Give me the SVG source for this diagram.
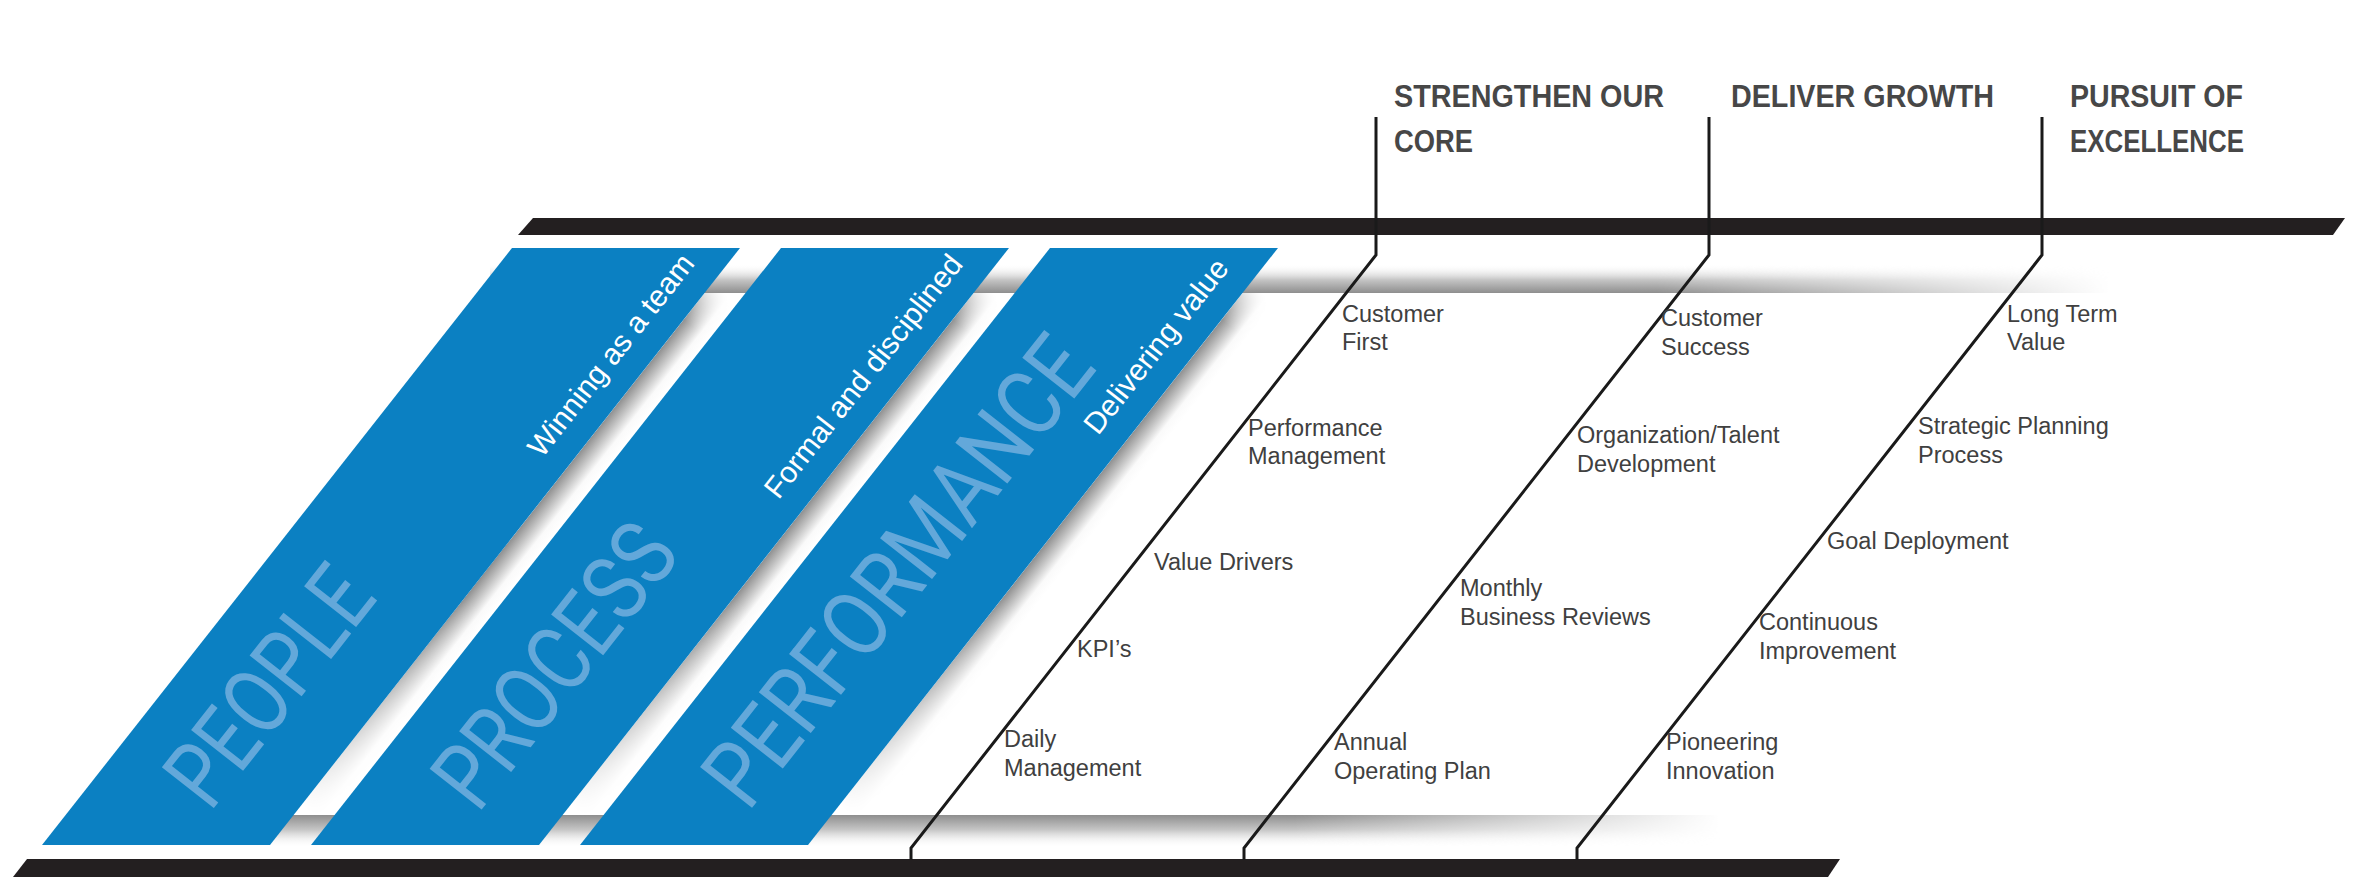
<svg xmlns="http://www.w3.org/2000/svg" width="2356" height="879" viewBox="0 0 2356 879">
  <style>
    .band { fill: #0b80c2; }
    .big { font-family: Roboto, "Liberation Sans", sans-serif; font-weight: 400; font-size: 93px; fill: #63a8da; }
    .sub { font-family: "Liberation Sans", Arial, sans-serif; font-size: 30px; fill: #ffffff; }
    .bar { fill: #231f20; }
    .hdr { font-family: "Liberation Sans", Arial, sans-serif; font-weight: bold; font-size: 31px; fill: #474747; }
    .lbl { font-family: "Liberation Sans", Arial, sans-serif; font-size: 23.5px; fill: #404040; }
    .conn { fill: none; stroke: #1a1a1a; stroke-width: 3; stroke-linejoin: miter; }
  </style>
  <defs>
    <linearGradient id="gapGrad" x1="0" y1="0" x2="0" y2="1">
      <stop offset="0" stop-color="#8f8f8f"/>
      <stop offset="0.35" stop-color="#c4c4c4"/>
      <stop offset="0.7" stop-color="#fafafa"/>
      <stop offset="1" stop-color="#ffffff"/>
    </linearGradient>
    <linearGradient id="alongGrad" x1="0" y1="0" x2="1" y2="0">
      <stop offset="0" stop-color="#000"/>
      <stop offset="0.4" stop-color="#fff"/>
      <stop offset="0.93" stop-color="#fff"/>
      <stop offset="1" stop-color="#000"/>
    </linearGradient>
    <mask id="alongFade" maskContentUnits="objectBoundingBox">
      <rect width="1" height="1" fill="url(#alongGrad)"/>
    </mask>
    <linearGradient id="rightGrad" x1="0" y1="0" x2="1" y2="0">
      <stop offset="0" stop-color="#fff"/>
      <stop offset="0.72" stop-color="#fff"/>
      <stop offset="1" stop-color="#000"/>
    </linearGradient>
    <mask id="fadeRight" maskContentUnits="objectBoundingBox">
      <rect width="1" height="1" fill="url(#rightGrad)"/>
    </mask>
    <linearGradient id="topGrad" x1="0" y1="0" x2="0" y2="1">
      <stop offset="0" stop-color="#ffffff" stop-opacity="0"/>
      <stop offset="0.55" stop-color="#c4c4c4"/>
      <stop offset="1" stop-color="#8e8e8e"/>
    </linearGradient>
    <linearGradient id="botGrad" x1="0" y1="0" x2="0" y2="1">
      <stop offset="0" stop-color="#8e8e8e"/>
      <stop offset="0.45" stop-color="#c6c6c6"/>
      <stop offset="1" stop-color="#ffffff" stop-opacity="0"/>
    </linearGradient>
  </defs>

  <rect width="2356" height="879" fill="#ffffff"/>

  <g id="shadows">
    <g transform="translate(270,845) rotate(-51.79)"><rect x="50" y="0" width="665" height="31" fill="url(#gapGrad)" mask="url(#alongFade)"/></g>
    <g transform="translate(539,845) rotate(-51.79)"><rect x="50" y="0" width="665" height="31" fill="url(#gapGrad)" mask="url(#alongFade)"/></g>
    <g transform="translate(808,845) rotate(-51.79)"><rect x="50" y="0" width="665" height="31" fill="url(#gapGrad)" mask="url(#alongFade)"/></g>
    <rect x="490" y="264" width="1620" height="29" fill="url(#topGrad)" mask="url(#fadeRight)"/>
    <rect x="200" y="815" width="1520" height="33" fill="url(#botGrad)" mask="url(#fadeRight)"/>
  </g>

  <g id="people">
    <polygon class="band" points="512,248 740,248 270,845 42,845"/>
    <g transform="translate(270,845) rotate(-51.79)">
      <text class="big" x="-12" y="-67" textLength="273" lengthAdjust="spacingAndGlyphs">PEOPLE</text>
      <text class="sub" x="720" y="-25" text-anchor="end">Winning as a team</text>
    </g>
  </g>
  <g id="process">
    <polygon class="band" points="781,248 1009,248 539,845 311,845"/>
    <g transform="translate(539,845) rotate(-51.79)">
      <text class="big" x="-14" y="-67" textLength="330" lengthAdjust="spacingAndGlyphs">PROCESS</text>
      <text class="sub" x="719" y="-25" text-anchor="end">Formal and disciplined</text>
    </g>
  </g>
  <g id="performance">
    <polygon class="band" points="1050,248 1278,248 808,845 580,845"/>
    <g transform="translate(808,845) rotate(-51.79)">
      <text class="big" x="-12" y="-67" textLength="566" lengthAdjust="spacingAndGlyphs">PERFORMANCE</text>
      <text class="sub" x="714" y="-25" text-anchor="end">Delivering value</text>
    </g>
  </g>

  <g id="bars">
    <polygon class="bar" points="533,218 2345,218 2333,235 518,235"/>
    <polygon class="bar" points="27,859 1840,859 1828,877 13,877"/>
  </g>

  <g id="connectors">
    <polyline class="conn" points="1376,117 1376,255 911,848 911,860"/>
    <polyline class="conn" points="1709,117 1709,255 1244,848 1244,860"/>
    <polyline class="conn" points="2042,117 2042,255 1577,848 1577,860"/>
  </g>

  <g id="headers">
    <g id="h-core">
      <text class="hdr" x="1394" y="107" textLength="270" lengthAdjust="spacingAndGlyphs">STRENGTHEN OUR</text>
      <text class="hdr" x="1394" y="152" textLength="79" lengthAdjust="spacingAndGlyphs">CORE</text>
    </g>
    <g id="h-growth">
      <text class="hdr" x="1731" y="107" textLength="263" lengthAdjust="spacingAndGlyphs">DELIVER GROWTH</text>
    </g>
    <g id="h-excellence">
      <text class="hdr" x="2070" y="107" textLength="173" lengthAdjust="spacingAndGlyphs">PURSUIT OF</text>
      <text class="hdr" x="2070" y="152" textLength="174" lengthAdjust="spacingAndGlyphs">EXCELLENCE</text>
    </g>
  </g>

  <g id="labels-core">
    <g id="l-customer-first"><text class="lbl" x="1342" y="322">Customer</text><text class="lbl" x="1342" y="350">First</text></g>
    <g id="l-perf-mgmt"><text class="lbl" x="1248" y="436">Performance</text><text class="lbl" x="1248" y="464">Management</text></g>
    <g id="l-value-drivers"><text class="lbl" x="1154" y="570">Value Drivers</text></g>
    <g id="l-kpis"><text class="lbl" x="1077" y="657">KPI’s</text></g>
    <g id="l-daily"><text class="lbl" x="1004" y="747">Daily</text><text class="lbl" x="1004" y="776">Management</text></g>
  </g>
  <g id="labels-growth">
    <g id="l-customer-success"><text class="lbl" x="1661" y="326">Customer</text><text class="lbl" x="1661" y="355">Success</text></g>
    <g id="l-org-talent"><text class="lbl" x="1577" y="443">Organization/Talent</text><text class="lbl" x="1577" y="472">Development</text></g>
    <g id="l-monthly"><text class="lbl" x="1460" y="596">Monthly</text><text class="lbl" x="1460" y="625">Business Reviews</text></g>
    <g id="l-annual"><text class="lbl" x="1334" y="750">Annual</text><text class="lbl" x="1334" y="779">Operating Plan</text></g>
  </g>
  <g id="labels-excellence">
    <g id="l-long-term"><text class="lbl" x="2007" y="322">Long Term</text><text class="lbl" x="2007" y="350">Value</text></g>
    <g id="l-strategic"><text class="lbl" x="1918" y="434">Strategic Planning</text><text class="lbl" x="1918" y="463">Process</text></g>
    <g id="l-goal"><text class="lbl" x="1827" y="549">Goal Deployment</text></g>
    <g id="l-continuous"><text class="lbl" x="1759" y="630">Continuous</text><text class="lbl" x="1759" y="659">Improvement</text></g>
    <g id="l-pioneering"><text class="lbl" x="1666" y="750">Pioneering</text><text class="lbl" x="1666" y="779">Innovation</text></g>
  </g>
</svg>
